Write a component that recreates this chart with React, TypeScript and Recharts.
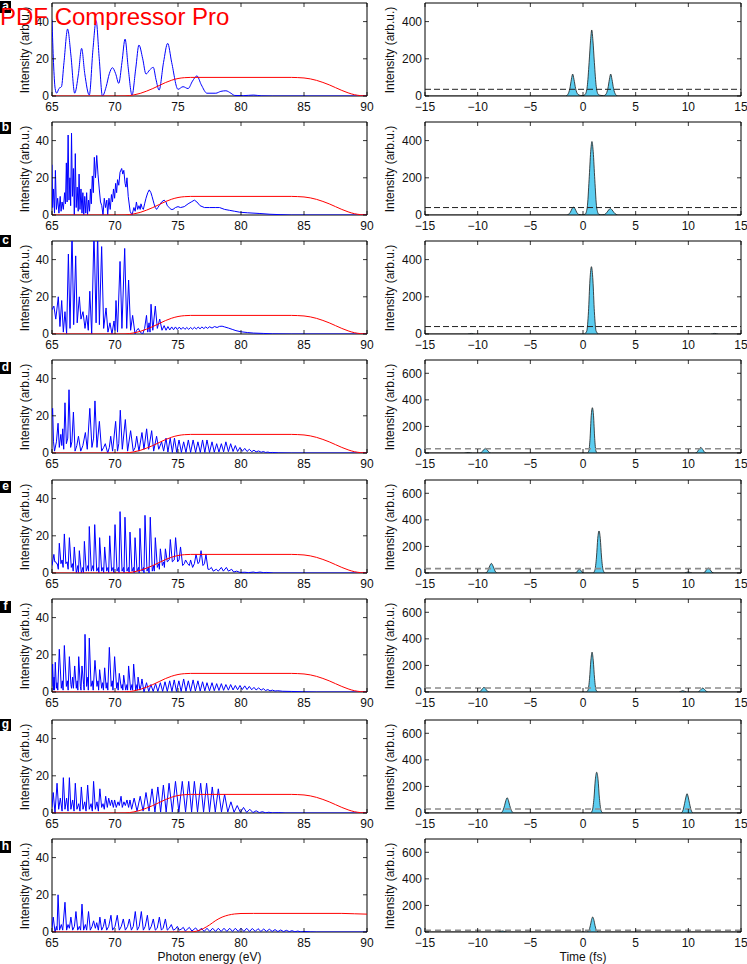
import React from 'react';
import { ComposedChart, Line, Area, XAxis, YAxis, ReferenceLine, ReferenceArea } from 'recharts';

// ---------------- data ----------------
const energyTicks = [65, 70, 75, 80, 85, 90];
const timeTicks = [-15, -10, -5, 0, 5, 10, 15];
const spectrumYTicks = [0, 20, 40];
const pulseYTicksLow = [0, 200, 400];
const pulseYTicksHigh = [0, 200, 400, 600];
const panelLetters = ['a', 'b', 'c', 'd', 'e', 'f', 'g', 'h'];

type P = [number, number][];

const filterMain: P = [[65,0],[70,0],[70.8,0.05],[71.5,0.6],[72,1.4],[72.5,2.6],[73,4.0],[73.5,5.6],[74,7.2],[74.5,8.5],[75,9.4],[75.5,9.85],[76,10],[84,10],[84.5,9.9],[85,9.7],[85.5,9.2],[86,8.4],[86.5,7.3],[87,6],[87.5,4.5],[88,3],[88.5,1.7],[89,0.7],[89.5,0.2],[90,0]];
const filterH: P = [[65,0],[76,0],[76.5,0.5],[77,1.8],[77.5,3.8],[78,6.2],[78.5,8],[79,9.1],[79.5,9.7],[80,9.95],[81,10],[88,10],[89,9.8],[90,9.6]];

const specA: P = [[65,41],[65.12,18],[65.25,4],[65.37,1.5],[65.55,4],[65.75,5],[65.95,18],[66.24,36],[66.5,22],[66.8,1.5],[67.1,12],[67.35,25.6],[67.6,12],[67.96,0.5],[68.25,25],[68.5,40.5],[68.75,20],[69.0,0],[69.3,5],[69.55,12],[69.8,15.2],[70.05,12],[70.3,6.8],[70.55,18],[70.8,30.6],[71.05,15],[71.35,0.5],[71.65,15],[71.9,27.4],[72.2,20],[72.46,11.8],[72.75,14],[73.04,15.4],[73.25,9],[73.5,3.2],[73.85,18],[74.18,28.3],[74.5,18],[75.0,3.6],[75.4,5],[75.8,4],[76.15,8],[76.5,10.8],[76.85,6],[77.3,1.5],[78.0,1.5],[78.4,2.5],[78.8,2.8],[79.2,1.5],[79.5,0.3],[80.2,0.2],[81.0,0.5],[81.6,0.1],[82.5,0],[90,0]];

const specB: P = [[65,27],[65.05,4],[65.12,14],[65.2,1],[65.27,24],[65.35,3],[65.45,9],[65.55,1],[65.65,10],[65.72,2],[65.8,7],[65.9,3],[66.0,12],[66.07,6],[66.14,28],[66.2,7],[66.28,43],[66.35,8],[66.42,20],[66.48,5],[66.55,44],[66.62,10],[66.7,25],[66.77,0],[66.85,33],[66.92,4],[67.0,15],[67.08,2],[67.15,22],[67.22,3],[67.3,14],[67.38,1],[67.45,12],[67.52,0],[67.6,10],[67.68,1],[67.75,12],[67.82,0],[67.9,8],[67.98,2],[68.05,14],[68.12,6],[68.2,21],[68.28,12],[68.36,31],[68.45,20],[68.55,32],[68.65,22],[68.75,14],[68.85,7],[68.95,5],[69.05,0],[69.15,9],[69.25,4],[69.35,8],[69.42,0],[69.52,9],[69.62,3],[69.72,11],[69.8,7],[69.88,14],[69.97,9],[70.05,17],[70.13,12],[70.2,19],[70.3,16],[70.4,23],[70.53,25],[70.62,22],[70.7,24],[70.8,17],[70.87,15],[70.95,20],[71.05,10],[71.2,2],[71.35,0],[71.5,4],[71.6,2],[71.7,7],[71.8,3],[71.9,5],[72.0,3],[72.06,6],[72.15,4],[72.25,3],[72.35,6],[72.46,9],[72.6,12],[72.72,13.5],[72.85,12],[72.94,10],[73.02,8],[73.1,6],[73.2,4],[73.3,3],[73.4,4],[73.5,5],[73.7,7],[73.9,8],[74.05,7],[74.15,5],[74.3,4],[74.45,3],[74.6,3],[74.8,4],[75.0,4.5],[75.2,4],[75.5,4.5],[75.8,6],[76.05,7],[76.3,8],[76.5,7],[76.75,5],[77.1,4],[77.5,4],[78.0,4],[78.3,4],[78.7,3],[79.1,2.5],[79.5,2],[79.9,1.5],[80.5,1.2],[81.5,0.8],[82.3,0.4],[83.1,0.2],[84,0],[90,0]];

const specC: P = [[65,13],[65.15,15],[65.3,8],[65.5,20],[65.63,4],[65.77,18],[65.9,1],[66.03,12],[66.16,0],[66.3,43],[66.43,3],[66.59,55],[66.72,5],[66.88,42],[67.0,6],[67.17,20],[67.3,8],[67.46,12],[67.62,3],[67.75,10],[67.88,2],[68.0,23],[68.15,0],[68.33,55],[68.5,6],[68.62,55],[68.76,5],[68.94,47],[69.1,3],[69.29,14],[69.44,1],[69.6,6],[69.76,0],[69.92,7],[70.0,2],[70.08,18],[70.2,1],[70.4,39],[70.55,3],[70.77,46],[70.93,3],[71.08,29],[71.24,2],[71.4,10],[71.59,0],[71.72,2],[71.85,3],[72.0,1],[72.2,0],[72.35,3],[72.5,10],[72.6,1],[72.7,6],[72.78,1],[72.86,16],[73.0,2],[73.2,15],[73.36,3],[73.55,8],[73.73,2],[73.9,4.5],[74.05,2],[74.2,4],[74.35,2.2],[74.5,3.8],[74.65,2.3],[74.8,3.8],[74.95,2.4],[75.1,3.7],[75.25,2.5],[75.4,3.6],[75.55,2.5],[75.7,3.5],[75.85,2.5],[76.0,3.5],[76.15,2.6],[76.3,3.6],[76.45,2.7],[76.6,3.7],[76.75,2.8],[76.9,3.8],[77.05,2.9],[77.2,3.8],[77.35,3.0],[77.5,3.9],[77.7,3.2],[77.9,4.0],[78.1,3.5],[78.3,4.1],[78.5,4.2],[78.7,3.8],[79.0,3.2],[79.3,2.5],[79.6,1.8],[80.0,1.2],[80.5,0.8],[81.0,0.5],[81.8,0.3],[82.5,0.1],[84,0],[90,0]];

const specD: P = [[65,20],[65.05,24],[65.12,6],[65.2,1],[65.35,6],[65.48,16],[65.58,3],[65.7,10],[65.78,4],[65.85,13],[65.93,2],[66.03,27],[66.14,5],[66.25,8],[66.35,34],[66.48,3],[66.58,6],[66.7,22],[66.83,1],[66.97,4],[67.1,9],[67.28,1],[67.45,4],[67.65,11],[67.8,2],[68.0,24],[68.17,3],[68.3,8],[68.41,28],[68.57,3],[68.76,17],[68.94,1],[69.1,3],[69.23,5],[69.42,0],[69.55,3],[69.66,9],[69.81,1],[70.05,17],[70.2,1],[70.3,5],[70.42,23],[70.58,2],[70.82,18],[71.0,1],[71.24,12],[71.45,1],[71.6,3],[71.72,9],[71.9,1],[72.14,11],[72.3,2],[72.51,13],[72.67,2],[72.91,12],[73.07,1],[73.3,9],[73.47,2],[73.7,6],[73.86,1],[74.05,8],[74.2,0.5],[74.38,8],[74.55,0.3],[74.72,8],[74.9,0.3],[75.08,7],[75.27,0.3],[75.45,6],[75.63,0.3],[75.82,7],[76.0,0.3],[76.2,7],[76.4,0.3],[76.58,6],[76.77,0.3],[76.95,7],[77.13,0.3],[77.3,7],[77.5,0.3],[77.7,6],[77.88,0.4],[78.07,5],[78.25,0.5],[78.44,5],[78.62,0.6],[78.8,6],[79.0,0.7],[79.18,5],[79.37,0.8],[79.55,4],[79.73,0.8],[79.92,3],[80.1,0.9],[80.3,2.5],[80.48,0.8],[80.66,2],[80.85,0.7],[81.03,1.5],[81.2,0.6],[81.4,1.1],[81.6,0.4],[81.77,0.8],[81.95,0.3],[82.14,0.5],[82.3,0.2],[82.5,0.3],[83,0.1],[84,0],[90,0]];

const specE: P = [[65,4],[65.15,10],[65.22,6],[65.3,6],[65.36,5],[65.42,5],[65.5,2],[65.58,16],[65.71,5],[65.8,7],[65.88,3],[65.98,21],[66.1,5],[66.2,6],[66.28,2],[66.38,19],[66.53,3],[66.62,5],[66.68,1],[66.77,14],[66.93,0],[67.05,4],[67.1,0],[67.17,12],[67.33,0],[67.45,3],[67.5,0],[67.57,17],[67.72,1],[67.85,4],[67.9,1],[67.96,25],[68.12,1],[68.25,4],[68.3,1],[68.39,26],[68.55,1],[68.68,3],[68.72,0],[68.78,19],[68.94,1],[69.05,3],[69.1,0],[69.18,14],[69.34,1],[69.45,3],[69.5,0],[69.58,20],[69.73,1],[69.85,3],[69.9,0],[70.0,26],[70.16,1],[70.28,3],[70.32,0],[70.4,33],[70.56,1],[70.68,3],[70.72,0],[70.79,30],[70.95,1],[71.07,3],[71.12,0],[71.19,22],[71.35,1],[71.47,3],[71.52,0],[71.59,19],[71.75,1],[71.87,3],[71.92,0],[71.98,24],[72.14,1],[72.26,3],[72.3,0],[72.38,31],[72.54,1],[72.66,3],[72.7,0],[72.8,30],[72.96,1],[73.08,4],[73.12,1],[73.2,19],[73.36,3],[73.48,5],[73.52,2],[73.6,13],[73.76,4],[73.88,6],[73.92,3],[74.0,13],[74.15,6],[74.3,7],[74.39,18],[74.55,6],[74.7,7],[74.81,19],[74.97,6],[75.08,7],[75.2,14],[75.37,4],[75.5,5],[75.6,7],[75.77,5],[75.9,4],[76.0,7],[76.16,3],[76.3,5],[76.43,10],[76.59,5],[76.7,6],[76.83,12],[76.98,4],[77.1,5],[77.22,10],[77.38,2],[77.5,2],[77.65,3],[77.8,1],[78.04,2],[78.2,1],[78.44,3],[78.6,1],[78.84,3],[79.0,1],[79.26,2],[79.42,0.5],[79.66,1],[79.92,0.3],[80.3,0.4],[80.6,0.2],[80.98,0.5],[81.2,0.2],[81.5,0.5],[81.8,0.2],[82.04,0.3],[82.6,0],[90,0]];

const specF: P = [[65,3],[65.05,15],[65.12,1],[65.16,8],[65.2,1],[65.26,16],[65.35,2],[65.4,5],[65.46,1],[65.58,23],[65.74,2],[65.82,6],[65.88,1],[65.98,25],[66.14,3],[66.22,6],[66.28,1],[66.38,19],[66.5,4],[66.55,2],[66.64,8],[66.7,2],[66.8,14],[66.93,2],[67.0,6],[67.05,1],[67.12,19],[67.25,3],[67.3,1],[67.38,14],[67.51,4],[67.55,1],[67.62,31],[67.75,3],[67.85,8],[67.88,1],[67.96,29],[68.1,3],[68.2,6],[68.27,1],[68.41,17],[68.57,3],[68.65,6],[68.7,1],[68.78,12],[68.94,2],[69.02,5],[69.08,1],[69.18,13],[69.3,2],[69.37,5],[69.43,1],[69.55,24],[69.7,3],[69.78,6],[69.84,1],[69.97,19],[70.13,2],[70.2,5],[70.25,1],[70.34,10],[70.5,2],[70.58,4],[70.62,1],[70.69,9],[70.85,1],[70.95,4],[71.0,1],[71.08,14],[71.24,1],[71.35,4],[71.4,1],[71.48,15],[71.64,1],[71.75,4],[71.78,1],[71.83,8],[71.98,1],[72.08,4],[72.14,7],[72.3,0],[72.5,5],[72.68,0.3],[72.85,4],[73.03,0.3],[73.22,4.5],[73.4,0.3],[73.6,5],[73.78,0.3],[73.97,5.5],[74.15,0.3],[74.34,6],[74.52,0.3],[74.7,6.5],[74.88,0.3],[75.07,6],[75.25,0.3],[75.45,7],[75.63,0.4],[75.82,6],[76.0,0.4],[76.2,6.5],[76.38,0.5],[76.58,6],[76.76,0.5],[76.95,5.5],[77.13,0.6],[77.3,5],[77.5,0.6],[77.7,5],[77.88,0.7],[78.07,4.5],[78.25,0.8],[78.44,4.5],[78.62,0.9],[78.8,4],[79.0,1],[79.18,4],[79.37,1.1],[79.55,3.5],[79.73,1.2],[79.92,3.5],[80.1,1.3],[80.3,3.3],[80.48,1.3],[80.66,3],[80.85,1.2],[81.03,2.5],[81.2,1.1],[81.4,2.2],[81.6,1],[81.77,1.8],[81.95,0.8],[82.14,1.3],[82.3,0.6],[82.5,1],[82.7,0.5],[82.9,0.7],[83.3,0.4],[84,0.3],[85,0.1],[86,0],[90,0]];

const specG: P = [[65,3],[65.1,11],[65.24,0],[65.4,16],[65.53,2],[65.66,8],[65.8,1],[65.9,19],[66.03,2],[66.16,8],[66.27,1],[66.38,19],[66.5,2],[66.64,7],[66.75,1],[66.85,16],[66.98,2],[67.12,5],[67.22,1],[67.33,14],[67.46,2],[67.6,6],[67.7,1],[67.83,15],[67.96,2],[68.1,5],[68.2,1],[68.3,17],[68.44,2],[68.57,6],[68.68,1],[68.8,13],[68.94,3],[69.05,5],[69.15,2],[69.26,9],[69.39,3],[69.5,8],[69.63,4],[69.74,7],[69.87,3],[69.97,7],[70.1,3],[70.24,6],[70.34,4],[70.48,9],[70.58,3],[70.71,6],[70.82,4],[70.95,7],[71.08,3],[71.19,7],[71.32,2],[71.52,8],[71.75,1],[72.0,9],[72.23,1],[72.46,11],[72.7,1],[72.94,13],[73.17,0.5],[73.4,14],[73.62,0.5],[73.84,15],[74.06,0.5],[74.29,16],[74.55,0.5],[74.8,17],[75.07,0.5],[75.34,17],[75.6,0.5],[75.85,17],[76.08,0.5],[76.3,17],[76.55,0.5],[76.8,16],[77.03,0.5],[77.27,16],[77.5,0.5],[77.72,14],[77.96,0.5],[78.2,13],[78.45,0.5],[78.7,10],[78.95,0.5],[79.2,6],[79.45,0.4],[79.7,4],[79.95,0.3],[80.2,3],[80.45,0.3],[80.7,2],[80.95,0.2],[81.2,1.2],[81.45,0.2],[81.7,0.7],[81.95,0.1],[82.2,0.4],[82.5,0.1],[83,0.2],[83.5,0],[90,0]];

const specH: P = [[65,2],[65.1,8],[65.24,0],[65.35,3],[65.4,1],[65.48,20],[65.6,1],[65.74,4],[65.85,1],[66.03,16],[66.16,1],[66.27,4],[66.38,2],[66.5,8],[66.64,1],[66.78,3],[66.9,11],[67.04,1],[67.17,3],[67.27,1],[67.38,15],[67.51,1],[67.65,4],[67.75,1],[67.9,11],[68.04,1],[68.18,3],[68.3,6],[68.44,2],[68.55,5],[68.68,1],[68.8,8],[68.94,1],[69.08,3],[69.2,7],[69.34,1],[69.5,3],[69.68,9],[69.81,1],[70.0,3],[70.18,9],[70.34,1],[70.5,3],[70.66,7],[70.82,1],[71.0,3],[71.14,7],[71.3,1],[71.45,3],[71.61,11],[71.77,1],[71.92,3],[72.09,11],[72.25,1],[72.4,3],[72.57,9],[72.72,1],[72.88,3],[73.04,7],[73.2,1],[73.35,2],[73.52,8],[73.68,1],[73.82,2],[74.0,7],[74.15,1],[74.3,2],[74.47,4],[74.63,1],[74.78,1.5],[74.95,3],[75.1,1],[75.25,1.5],[75.42,2.5],[75.58,0.5],[75.9,2.5],[76.1,0.5],[76.4,2.2],[76.62,0.4],[76.85,2],[77.08,0.3],[77.3,2],[77.52,0.3],[77.75,2],[77.98,0.3],[78.2,2],[78.43,0.3],[78.65,2],[78.88,0.3],[79.1,2],[79.33,0.3],[79.55,2],[79.78,0.3],[80.0,2],[80.23,0.3],[80.45,2],[80.68,0.3],[80.9,1.9],[81.13,0.3],[81.35,1.8],[81.58,0.3],[81.8,1.6],[82.03,0.3],[82.25,1.5],[82.48,0.3],[82.7,1.3],[82.93,0.2],[83.15,1.1],[83.38,0.2],[83.6,0.9],[83.83,0.2],[84.05,0.7],[84.28,0.1],[84.5,0.5],[84.75,0.1],[85,0.3],[85.5,0.1],[86,0],[90,0]];

const pulseA: P = [[-15,0],[-1.65,0],[-1.45,8],[-1.25,40],[-1.1,90],[-0.98,118],[-0.86,90],[-0.7,40],[-0.5,10],[-0.25,3],[0,2],[0.2,8],[0.4,50],[0.58,180],[0.72,300],[0.83,355],[0.94,300],[1.08,180],[1.26,50],[1.46,8],[1.7,3],[1.96,2],[2.16,8],[2.36,40],[2.51,90],[2.63,118],[2.75,90],[2.9,40],[3.1,8],[3.3,0],[15,0]];
const pulseB: P = [[-15,0],[-1.6,0],[-1.4,3],[-1.2,15],[-1.03,35],[-0.9,42],[-0.77,35],[-0.6,15],[-0.4,3],[-0.1,1],[0.2,4],[0.4,40],[0.58,190],[0.73,340],[0.85,395],[0.97,340],[1.12,190],[1.3,40],[1.5,4],[1.8,1],[2.05,3],[2.25,13],[2.45,28],[2.6,35],[2.75,28],[2.95,13],[3.15,3],[3.4,0],[15,0]];
const pulseC: P = [[-15,0],[-11,0],[-10.6,3],[-10.2,0],[0.1,0],[0.35,15],[0.52,120],[0.66,290],[0.8,362],[0.94,290],[1.08,120],[1.25,15],[1.5,0],[12.1,0],[12.5,3],[12.9,0],[15,0]];
const pulseD: P = [[-15,0],[-11.3,0],[-10.9,4],[-10.5,0],[-9.85,0],[-9.65,5],[-9.45,22],[-9.27,35],[-9.09,22],[-8.89,5],[-8.7,0],[0.4,0],[0.55,15],[0.67,110],[0.78,280],[0.89,341],[1.0,280],[1.11,110],[1.23,15],[1.38,0],[10.6,0],[10.8,5],[11.0,27],[11.18,42],[11.36,27],[11.56,5],[11.75,0],[15,0]];
const pulseE: P = [[-15,0],[-9.3,0],[-9.1,8],[-8.9,45],[-8.7,72],[-8.5,45],[-8.3,8],[-8.1,0],[-0.8,0],[-0.62,5],[-0.47,20],[-0.34,30],[-0.21,20],[-0.06,5],[0.1,0],[0.95,0],[1.12,20],[1.28,120],[1.4,260],[1.52,317],[1.64,260],[1.76,120],[1.92,20],[2.1,0],[9.6,0],[10.0,8],[10.4,0],[11.35,0],[11.55,6],[11.73,25],[11.9,37],[12.07,25],[12.25,6],[12.45,0],[15,0]];
const pulseF: P = [[-15,0],[-9.95,0],[-9.75,5],[-9.57,22],[-9.4,35],[-9.23,22],[-9.05,5],[-8.85,0],[0.3,0],[0.48,15],[0.62,100],[0.75,240],[0.86,300],[0.97,240],[1.1,100],[1.24,15],[1.42,0],[9.1,0],[9.47,10],[9.85,0],[10.85,0],[11.03,5],[11.2,19],[11.37,30],[11.54,19],[11.72,5],[11.9,0],[15,0]];
const pulseG: P = [[-15,0],[-7.85,0],[-7.65,12],[-7.45,55],[-7.32,95],[-7.2,115],[-7.08,95],[-6.95,55],[-6.75,12],[-6.55,0],[0.7,0],[0.88,18],[1.04,110],[1.17,250],[1.3,307],[1.43,250],[1.56,110],[1.72,18],[1.9,0],[9.28,0],[9.46,14],[9.64,70],[9.77,120],[9.88,145],[9.99,120],[10.12,70],[10.3,14],[10.48,0],[15,0]];
const pulseH: P = [[-15,0],[-8.1,0],[-7.85,4],[-7.65,8],[-7.45,4],[-7.2,0],[0.35,0],[0.55,10],[0.7,50],[0.82,95],[0.92,113],[1.02,95],[1.14,50],[1.29,10],[1.5,0],[15,0]];

const thresholds = [36, 40, 40, 32, 33, 30, 30, 13];
const spectra = [specA, specB, specC, specD, specE, specF, specG, specH];
const filters = [filterMain, filterMain, filterMain, filterMain, filterMain, filterMain, filterMain, filterH];
const pulses = [pulseA, pulseB, pulseC, pulseD, pulseE, pulseF, pulseG, pulseH];
const pulseMax = [500, 500, 500, 700, 700, 700, 700, 700];

// ---------------- layout ----------------
const FONT = '"Liberation Sans", Arial, Helvetica, sans-serif';
const ROW_TOPS = [3, 122, 241, 360, 480, 599, 720, 839];
const LETTER_TOPS = [1, 122, 235, 362, 481, 601, 719, 841];
const PLOT_H = 93;
const TOP_PAD = 5;
const XAXIS_H = 22;
const AXIS_Y = TOP_PAD + PLOT_H;
const X_LABEL_GAP = 6;
const Y_LABEL_GAP = 3;
const TICK_LEN = 4;

const toObj = (p: P) => p.map(([x, y]) => ({ x, y }));
const fmt = (v: number) => (v < 0 ? '\u2212' + Math.abs(v) : String(v));

const makeXTick = () => (props: any) => {
  const { x, payload } = props;
  return (
    <g>
      <line x1={x} x2={x} y1={AXIS_Y} y2={AXIS_Y - TICK_LEN} stroke="#000" strokeWidth={0.8} />
      <line x1={x} x2={x} y1={TOP_PAD} y2={TOP_PAD + TICK_LEN} stroke="#000" strokeWidth={0.8} />
      <text x={x} y={AXIS_Y + X_LABEL_GAP} dy="0.71em" textAnchor="middle" fontSize={12} fontFamily={FONT} fill="#111">{fmt(payload.value)}</text>
    </g>
  );
};

const makeYTick = (axisX: number, plotW: number) => (props: any) => {
  const { y, payload } = props;
  return (
    <g>
      <line x1={axisX} x2={axisX + TICK_LEN} y1={y} y2={y} stroke="#000" strokeWidth={0.8} />
      <line x1={axisX + plotW} x2={axisX + plotW - TICK_LEN} y1={y} y2={y} stroke="#000" strokeWidth={0.8} />
      <text x={axisX - Y_LABEL_GAP} y={y} dy="0.355em" textAnchor="end" fontSize={12} fontFamily={FONT} fill="#111">{fmt(payload.value)}</text>
    </g>
  );
};

const LEFT_W = 380, LEFT_YW = 52, LEFT_PW = 315;
const RIGHT_X = 375, RIGHT_W = 372, RIGHT_YW = 50, RIGHT_PW = 316;

function SpectrumChart({ i }: { i: number }) {
  return (
    <div style={{ position: 'absolute', left: 0, top: ROW_TOPS[i] - TOP_PAD }}>
      <ComposedChart width={LEFT_W} height={TOP_PAD + PLOT_H + XAXIS_H}
        margin={{ top: TOP_PAD, right: LEFT_W - LEFT_YW - LEFT_PW, bottom: 0, left: 0 }}>
        <XAxis type="number" dataKey="x" domain={[65, 90]} ticks={energyTicks} interval={0}
          allowDataOverflow axisLine={false} tickLine={false} tickSize={0} tickMargin={0}
          height={XAXIS_H} tick={makeXTick()} />
        <YAxis type="number" dataKey="y" domain={[0, 50]} ticks={spectrumYTicks} interval={0}
          allowDataOverflow axisLine={false} tickLine={false} tickSize={0} tickMargin={0}
          width={LEFT_YW} tick={makeYTick(LEFT_YW, LEFT_PW)} />
        <Line data={toObj(spectra[i])} dataKey="y" type={i === 0 ? 'monotone' : 'linear'} stroke="#0000ff"
          strokeWidth={1} dot={false} activeDot={false} isAnimationActive={false} />
        <Line data={toObj(filters[i])} dataKey="y" type="monotone" stroke="#ff0000"
          strokeWidth={1} dot={false} activeDot={false} isAnimationActive={false} />
        <ReferenceArea x1={65} x2={90} y1={0} y2={50} fill="none" stroke="#000" strokeWidth={1} ifOverflow="visible" />
      </ComposedChart>
    </div>
  );
}

function PulseChart({ i }: { i: number }) {
  const max = pulseMax[i];
  const gray = i >= 3;
  return (
    <div style={{ position: 'absolute', left: RIGHT_X, top: ROW_TOPS[i] - TOP_PAD }}>
      <ComposedChart width={RIGHT_W} height={TOP_PAD + PLOT_H + XAXIS_H} data={toObj(pulses[i])}
        margin={{ top: TOP_PAD, right: RIGHT_W - RIGHT_YW - RIGHT_PW, bottom: 0, left: 0 }}>
        <XAxis type="number" dataKey="x" domain={[-15, 15]} ticks={timeTicks} interval={0}
          allowDataOverflow axisLine={false} tickLine={false} tickSize={0} tickMargin={0}
          height={XAXIS_H} tick={makeXTick()} />
        <YAxis type="number" domain={[0, max]} ticks={max === 500 ? pulseYTicksLow : pulseYTicksHigh} interval={0}
          allowDataOverflow axisLine={false} tickLine={false} tickSize={0} tickMargin={0}
          width={RIGHT_YW} tick={makeYTick(RIGHT_YW, RIGHT_PW)} />
        <Area dataKey="y" type="monotone" stroke="#1a1a1a" strokeWidth={0.8} fill="#5ccdf0" fillOpacity={1}
          baseValue={0} dot={false} activeDot={false} isAnimationActive={false} />
        <ReferenceLine y={thresholds[i]} stroke={gray ? '#8c8c8c' : '#222'} strokeWidth={gray ? 1.6 : 1}
          strokeDasharray={gray ? '6 4' : '6 3'} />
        <ReferenceArea x1={-15} x2={15} y1={0} y2={max} fill="none" stroke="#000" strokeWidth={1} ifOverflow="visible" />
      </ComposedChart>
    </div>
  );
}

const yLabelStyle = (cx: number, cy: number): React.CSSProperties => ({
  position: 'absolute', left: cx, top: cy, transform: 'translate(-50%, -50%) rotate(-90deg)',
  whiteSpace: 'nowrap', fontFamily: FONT, fontSize: 12, color: '#111', lineHeight: '12px',
});

export default function App() {
  return (
    <div style={{ position: 'absolute', left: 0, top: 0, width: 747, height: 964, background: '#fff', overflow: 'hidden', fontFamily: FONT }}>
      {panelLetters.map((_, i) => <SpectrumChart key={'s' + i} i={i} />)}
      {panelLetters.map((_, i) => <PulseChart key={'p' + i} i={i} />)}
      {panelLetters.map((_, i) => (
        <div key={'yl' + i} style={yLabelStyle(25, ROW_TOPS[i] + PLOT_H / 2)}>Intensity (arb.u.)</div>
      ))}
      {panelLetters.map((_, i) => (
        <div key={'yr' + i} style={yLabelStyle(390, ROW_TOPS[i] + PLOT_H / 2)}>Intensity (arb.u.)</div>
      ))}
      {panelLetters.map((l, i) => (
        <div key={'l' + i} style={{ position: 'absolute', left: 0, top: LETTER_TOPS[i], width: 11, height: 12,
          background: '#000', color: '#fff', fontFamily: FONT, fontWeight: 'bold', fontSize: 12,
          lineHeight: '11px', textAlign: 'center' }}>{l}</div>
      ))}
      <div style={{ position: 'absolute', left: 209.5, top: 951, transform: 'translateX(-50%)', fontFamily: FONT,
        fontSize: 12, lineHeight: '12px', whiteSpace: 'nowrap', color: '#111' }}>Photon energy (eV)</div>
      <div style={{ position: 'absolute', left: 583, top: 951, transform: 'translateX(-50%)', fontFamily: FONT,
        fontSize: 12, lineHeight: '12px', whiteSpace: 'nowrap', color: '#111' }}>Time (fs)</div>
      <div style={{ position: 'absolute', left: 0, top: 4.5, fontFamily: FONT, fontSize: 24, lineHeight: '24px',
        color: '#ff0000', whiteSpace: 'nowrap' }}>PDF Compressor Pro</div>
    </div>
  );
}
